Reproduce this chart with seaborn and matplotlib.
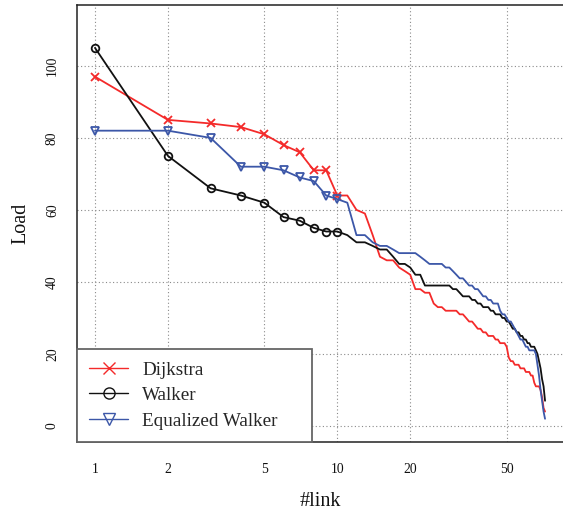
import numpy as np
import pandas as pd
import seaborn as sns
import matplotlib
matplotlib.use("Agg")
import matplotlib.pyplot as plt
from matplotlib.lines import Line2D

# ---------------- data ----------------
links = list(range(1, 73))

dijkstra = [97, 85, 84, 83, 81, 78, 76, 71, 71, 64,
            64, 60, 59, 53, 47, 46, 46, 44, 43, 42,
            38, 38, 37, 37, 34, 33, 33, 32, 32, 32,
            32, 31, 31, 30, 29, 29, 28, 27, 27, 26,
            26, 25, 25, 25, 24, 24, 23, 23, 23, 22,
            19, 18, 18, 17, 17, 17, 16, 16, 16, 15,
            15, 15, 14, 14, 12, 11, 11, 11, 10, 8,
            5, 4]

walker = [105, 75, 66, 64, 62, 58, 57, 55, 54, 54,
          53, 51, 51, 50, 49, 49, 47, 45, 45, 44,
          42, 42, 39, 39, 39, 39, 39, 39, 39, 38,
          38, 37, 36, 36, 36, 35, 35, 34, 34, 33,
          33, 33, 32, 32, 31, 31, 31, 30, 30, 29,
          29, 28, 27, 27, 26, 26, 25, 25, 24, 24,
          23, 23, 22, 22, 22, 21, 20, 18, 16, 13,
          11, 7]

eq_walker = [82, 82, 80, 72, 72, 71, 69, 68, 64, 63,
             62, 53, 53, 51, 50, 50, 49, 48, 48, 48,
             48, 47, 46, 45, 45, 45, 45, 44, 44, 43,
             42, 41, 41, 40, 39, 39, 38, 38, 37, 36,
             36, 35, 35, 34, 34, 34, 32, 31, 31, 30,
             29, 29, 28, 27, 26, 25, 24, 24, 23, 22,
             22, 21, 21, 21, 21, 20, 17, 14, 10, 7,
             4, 2]

series_names = ["Dijkstra", "Walker", "Equalized Walker"]
series_values = [dijkstra, walker, eq_walker]
series_colors = ["#F42A2A", "#111111", "#3C57A8"]
series_markers = ["x", "o", "v"]

x_ticks = [1, 2, 5, 10, 20, 50]
x_tick_labels = ["1", "2", "5", "10", "20", "50"]
y_ticks = [0, 20, 40, 60, 80, 100]

# ---------------- plot ----------------
sns.set_theme(style="white")
plt.rcParams["font.family"] = ["Liberation Serif", "DejaVu Serif"]

fig = plt.figure(figsize=(5.63, 5.13), dpi=100)
ax = fig.add_axes([77 / 563, 1 - 442 / 513, 486 / 563, 437 / 513])

for name, vals, col, mk in zip(series_names, series_values, series_colors, series_markers):
    df = pd.DataFrame({"link": links[:len(vals)], "load": vals})
    sns.lineplot(data=df, x="link", y="load", ax=ax, color=col, lw=1.3,
                 marker=mk, markevery=list(range(10)),
                 markersize=6 if mk == "v" else 5.5,
                 markerfacecolor="none", markeredgecolor=col, markeredgewidth=1.3,
                 estimator=None, errorbar=None, legend=False, zorder=3)

ax.set_xscale("log")
ax.set_xlim(0.843, 85.4)
ax.set_ylim(-4.45, 116.9)
ax.set_xticks(x_ticks)
ax.set_xticklabels(x_tick_labels)
ax.xaxis.set_minor_locator(matplotlib.ticker.NullLocator())
ax.set_yticks(y_ticks)
for lbl in ax.get_yticklabels():
    lbl.set_rotation(90)
    lbl.set_va("center")

ax.grid(True, which="major", linestyle=(0, (1, 2.2)), color="#8a8a8a", lw=0.8)
ax.set_axisbelow(True)

ax.tick_params(axis="both", which="major", direction="out", length=6, width=1.0,
               color="#222222", labelsize=9.8, labelcolor="#111111")
ax.tick_params(axis="x", pad=9)
ax.tick_params(axis="y", pad=7)

for side in ["left", "bottom", "top"]:
    ax.spines[side].set_color("#222222")
    ax.spines[side].set_linewidth(1.1)
ax.spines["right"].set_visible(False)

ax.set_xlabel("#link", fontsize=14.5, color="#111111")
ax.set_ylabel("Load", fontsize=14.5, color="#111111")
ax.xaxis.set_label_coords(0.5, (442 - 501) / 437)
ax.xaxis.label.set_va("center")
ax.yaxis.set_label_coords((21 - 77) / 486, 0.5)
ax.yaxis.label.set_va("center")

handles = [Line2D([0], [0], color=c, lw=1.0, marker=m, markersize=8,
                  markerfacecolor="none", markeredgecolor=c, markeredgewidth=1.0)
           for c, m in zip(series_colors, series_markers)]
leg = ax.legend(handles, series_names, loc="lower left",
                bbox_to_anchor=(0, 0, 235 / 486, 0.2), mode="expand",
                borderaxespad=0, fontsize=13.8, frameon=True, fancybox=False,
                handlelength=2.0, handletextpad=0.75, labelspacing=0.42,
                borderpad=0.65)
leg.get_frame().set_edgecolor("#666666")
leg.get_frame().set_linewidth(1.3)
leg.get_frame().set_facecolor("white")
leg.get_frame().set_alpha(1)
leg.set_zorder(5)

fig.savefig("out.png", dpi=100)
